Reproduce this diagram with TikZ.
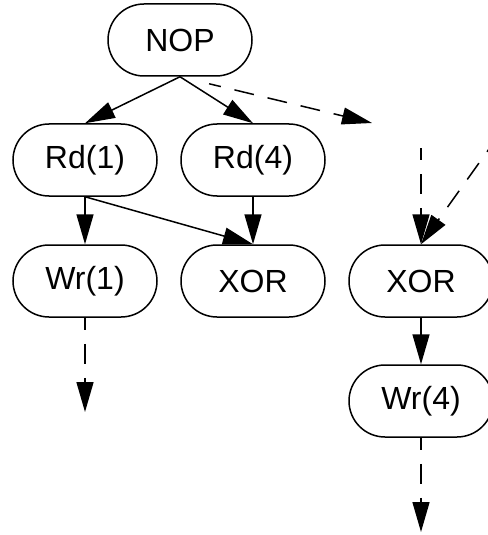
\documentclass[tikz,border=0pt]{standalone}
\usepackage{fontspec}
\setmainfont{Liberation Sans}
\usetikzlibrary{arrows.meta}

\tikzset{
    op/.style = {draw, rounded corners=18pt, minimum width=72pt, minimum height=36pt,
                 inner sep=0pt, font=\fontsize{16}{19}\selectfont},
    dep/.style = {-{Triangle[length=15pt, width=8.5pt]}},
    later/.style = {dep, dash pattern=on 10pt off 7pt, dash phase=4pt},
}

\begin{document}
\begin{tikzpicture}[x=.5pt, y=-.5pt, line width=.75pt]
        \useasboundingbox (0,0) rectangle (487,535);

        \node[op] (nop) at (180,40) {NOP};
        \node[op] (rdone) at (85,160) {Rd(1)};
        \node[op] (rdfour) at (253,160) {Rd(4)};
        \node[op] (wrone) at (85,281) {Wr(1)};
        \node[op] (xora) at (253,281) {XOR};
        \node[op] (xorb) at (421,281) {XOR};
        \node[op] (wrfour) at (421,401) {Wr(4)};

        % loose ends
        \coordinate (nopout) at (372,123);
        \coordinate (xorbin) at (421,148);
        \coordinate (xorbside) at (494,142);
        \coordinate (wroneout) at (85,412);
        \coordinate (wrfourout) at (421,532);

        \draw[dep] (nop.south) -- (rdone.north);
        \draw[dep] (nop.south) -- (rdfour.north);
        \draw[later, shorten <=15pt] (nop.south) -- (nopout);
        \draw[dep] (rdone.south) -- (wrone.north);
        \draw[dep] (rdone.south) -- (xora.north);
        \draw[dep] (rdfour.south) -- (xora.north);
        \draw[later] (xorbin) -- (xorb.north);
        \draw[later] (xorbside) -- (xorb.north);
        \draw[dep] (xorb.south) -- (wrfour.north);
        \draw[later] (wrone.south) -- (wroneout);
        \draw[later] (wrfour.south) -- (wrfourout);
\end{tikzpicture}
\end{document}
